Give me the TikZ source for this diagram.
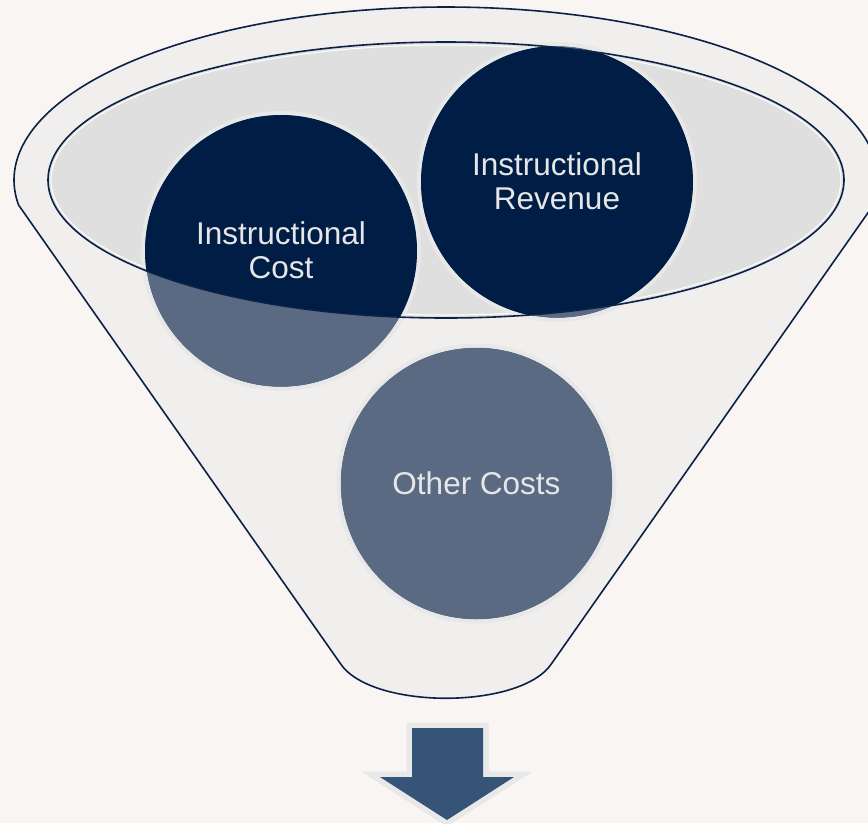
\documentclass[tikz,border=0pt]{standalone}
\usepackage{fontspec}
\setmainfont{Liberation Sans}
\definecolor{bgc}{HTML}{F8F5F2}
\definecolor{body}{HTML}{F0EFEE}
\definecolor{mouth}{HTML}{E0DFDF}
\definecolor{navy}{HTML}{001E45}
\definecolor{lightnavy}{HTML}{5B6A83}
\definecolor{ring}{HTML}{E8E8E8}
\definecolor{edge}{HTML}{0B2146}
\definecolor{arrowc}{HTML}{365478}
\definecolor{txt}{HTML}{E6E6E6}
\tikzset{
  outline/.style={draw=edge, line width=1.6pt, line join=round},
  lbl/.style={text=txt, align=center, font=\fontsize{31.5}{34.5}\selectfont},
}
\begin{document}
\begin{tikzpicture}[x=1pt,y=-1pt]
\useasboundingbox (0,0) rectangle (868,823);
\fill[bgc] (0,0) rectangle (868,823);
% funnel body
\path[fill=body, outline]
  plot[domain=171.7:368.3, samples=120, smooth] ({446+432*cos(\x)}, {180+173*sin(\x)})
  -- (552,663) .. controls (522,710) and (370,710) .. (340,663) -- cycle;
% mouth
\coordinate (mouthc) at (446,180);
\fill[mouth] (mouthc) ellipse[x radius=398pt, y radius=138pt];
\draw[white, line width=1pt] (mouthc) ellipse[x radius=395pt, y radius=135pt];
% circle centres
\coordinate (costc) at (281,251);
\coordinate (revc) at (557,182);
\coordinate (otherc) at (476.5,483.5);
\foreach \c in {costc,revc,otherc}{
  \fill[lightnavy] (\c) circle[radius=136pt];
  \draw[ring, line width=4pt] (\c) circle[radius=138pt];
}
\begin{scope}
  \clip (mouthc) ellipse[x radius=398pt, y radius=138pt];
  \fill[navy] (costc) circle[radius=136pt];
  \fill[navy] (revc) circle[radius=136pt];
\end{scope}
\draw[outline] (mouthc) ellipse[x radius=398pt, y radius=138pt];
% labels
\node[lbl] (cost) at (281,250) {Instructional\\Cost};
\node[lbl] (rev) at (557,181) {Instructional\\Revenue};
\node[lbl] (other) at (476.5,483) {Other Costs};
% arrow
\path[draw=ring, line width=11pt, line join=miter, miter limit=4, fill=ring]
  (412,728) -- (483,728) -- (483,777) -- (514,777) -- (447,820) -- (380,777) -- (412,777) -- cycle;
\fill[arrowc]
  (412,728) -- (483,728) -- (483,777) -- (514,777) -- (447,820) -- (380,777) -- (412,777) -- cycle;
\end{tikzpicture}
\end{document}
